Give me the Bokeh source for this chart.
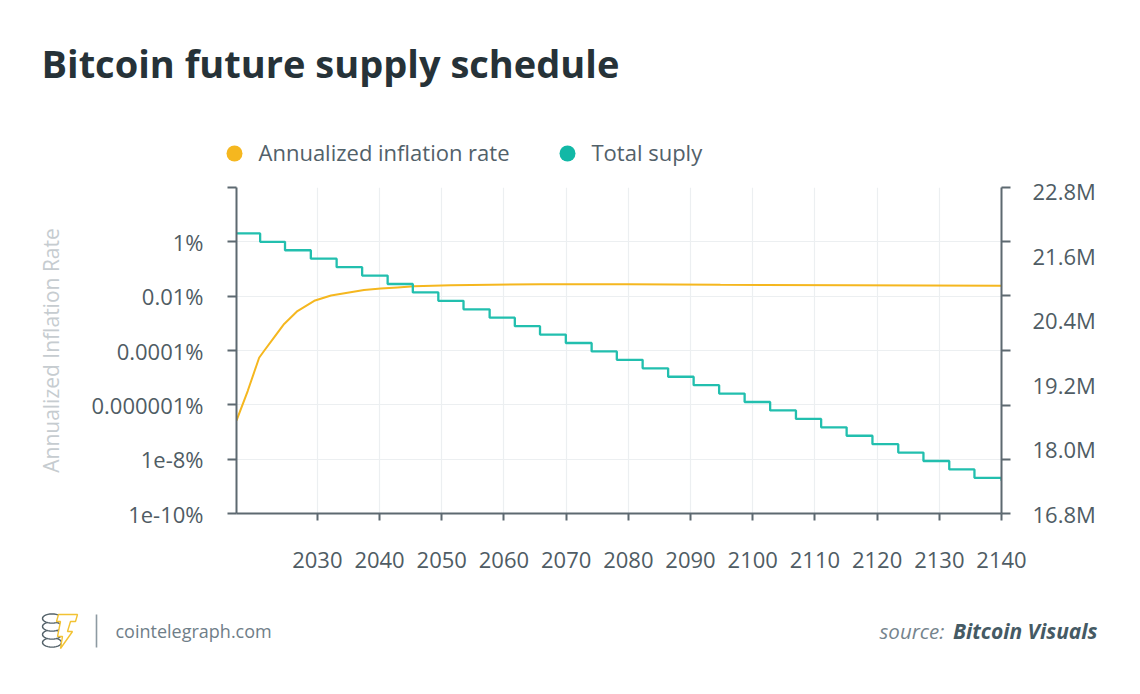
import math
from bokeh.plotting import figure
from bokeh.layouts import column
from bokeh.models import (Range1d, LinearAxis, LinearScale, FixedTicker, PrintfTickFormatter)
from bokeh.core.properties import value
from bokeh.embed import file_html
from bokeh.resources import INLINE

# ---------------- data ----------------
# Annualized inflation rate (%) - step series, changes at each halving
halving_years = [2020.8, 2024.8, 2028.95, 2033.1, 2037.2, 2041.3, 2045.35, 2049.45, 2053.5,
                 2057.7, 2061.75, 2065.8, 2069.95, 2074.1, 2078.15, 2082.3, 2086.4, 2090.5,
                 2094.6, 2098.7, 2102.8, 2106.95, 2111.0, 2115.1, 2119.25, 2123.4, 2127.45,
                 2131.6, 2135.65]
rate_years = [2017.0] + halving_years + [2140.0]
rate_pct = [2.04, 1.0, 0.489, 0.239, 0.117, 0.0573, 0.0281, 0.01374, 0.00673, 0.00329,
            0.00161, 7.88e-4, 3.86e-4, 1.89e-4, 9.25e-5, 4.52e-5, 2.21e-5, 1.08e-5,
            5.31e-6, 2.6e-6, 1.27e-6, 6.22e-7, 3.04e-7, 1.49e-7, 7.29e-8, 3.57e-8,
            1.75e-8, 8.55e-9, 4.19e-9, 2.05e-9, 1.6e-9]

# Total supply (millions of BTC)
supply_years = [2017.0, 2018.8, 2020.64, 2021.45, 2023.05, 2024.66, 2026.8, 2029.5, 2032.2,
                2034.85, 2037.5, 2040.2, 2042.9, 2045.55, 2051.45, 2058.0, 2065.9, 2080.0,
                2094.8, 2115.8, 2140.0]
supply_m = [18.53, 19.08, 19.70, 19.83, 20.08, 20.33, 20.57, 20.76, 20.86, 20.91, 20.96,
            20.99, 21.01, 21.03, 21.05, 21.06, 21.07, 21.07, 21.06, 21.05, 21.04]

x_ticks = [2030, 2040, 2050, 2060, 2070, 2080, 2090, 2100, 2110, 2120, 2130, 2140]
rate_ticks = [1e-10, 1e-8, 1e-6, 1e-4, 1e-2, 1.0, 100.0]
rate_tick_labels = ["1e-10%", "1e-8%", "0.000001%", "0.0001%", "0.01%", "1%", ""]
supply_ticks = [16.8, 18.0, 19.2, 20.4, 21.6, 22.8]
supply_marks = [16.8, 17.81, 18.82, 19.83, 20.85, 21.86, 22.869]

legend_labels = ["Annualized inflation rate", "Total suply"]

# ---------------- style ----------------
YEL = "#f5b71f"
TEAL = "#22bfae"
AX = "#5d6970"
LBL = "#4f5c64"
GRID = "#eceff1"
FONT = "Open Sans"

W = 1124
HH, MH, FH = 172, 418, 88            # header, main, footer heights
FL, FR, FT, FB = 236, 123, 15, 77    # main figure borders


def blank(height, y0):
    f = figure(width=W, height=height, x_range=Range1d(0, W),
               y_range=Range1d(y0 + height, y0), output_backend="svg",
               toolbar_location=None, min_border=0, x_axis_location=None,
               y_axis_location=None, outline_line_color=None, frame_align=False,
               background_fill_color="white", border_fill_color="white")
    f.grid.visible = False
    return f


# ---------------- header: title + legend ----------------
hdr = blank(HH, 0)
hdr.text(x=[41], y=[62], text=["Bitcoin future supply schedule"], text_font=value(FONT),
         text_font_style="bold", text_font_size="38px", text_color="#263238",
         text_baseline="middle", text_align="left")
hdr.scatter(x=[234, 567], y=[153, 153], size=16, marker="circle",
            fill_color=[YEL, "#12b8a6"], line_color=None)
hdr.text(x=[258, 591], y=[151, 151], text=legend_labels, text_font=value(FONT),
         text_font_size="22px", text_color="#52616a", text_baseline="middle",
         text_align="left")

# ---------------- main chart ----------------
p = figure(width=W, height=MH, output_backend="svg", toolbar_location=None,
           x_range=Range1d(2017.0, 2140.0), y_range=Range1d(1e-10, 100.0),
           y_axis_type="log", frame_align=False,
           min_border_left=FL, min_border_right=FR, min_border_top=FT, min_border_bottom=FB,
           outline_line_color=None, background_fill_color="white",
           border_fill_color="white")
p.extra_y_ranges = {"supply": Range1d(16.8, 22.87)}
p.extra_y_scales = {"supply": LinearScale()}

xt = FixedTicker(ticks=x_ticks)
xax = p.xaxis[0]
xax.ticker = xt
xax.minor_tick_line_color = None
xax.major_tick_in = 0
xax.major_tick_out = 7
xax.major_tick_line_color = AX
xax.major_tick_line_width = 2
xax.axis_line_color = AX
xax.axis_line_width = 2
xax.major_label_standoff = 31
xax.major_label_text_font = FONT
xax.major_label_text_font_size = "22px"
xax.major_label_text_color = LBL

yt = FixedTicker(ticks=rate_ticks)
yax = p.yaxis[0]
yax.ticker = yt
yax.major_label_overrides = dict(zip(rate_ticks, rate_tick_labels))
yax.minor_tick_line_color = None
yax.major_tick_in = 0
yax.major_tick_out = 9
yax.major_tick_line_color = AX
yax.major_tick_line_width = 2
yax.axis_line_color = AX
yax.axis_line_width = 2
yax.major_label_standoff = 24
yax.major_label_text_font = FONT
yax.major_label_text_font_size = "22px"
yax.major_label_text_color = LBL
yax.axis_label = "Annualized Inflation Rate"
yax.axis_label_text_font = FONT
yax.axis_label_text_font_style = "normal"
yax.axis_label_text_font_size = "21px"
yax.axis_label_text_color = "#c6ccd0"
yax.axis_label_standoff = 23

rax = LinearAxis(y_range_name="supply",
                 ticker=FixedTicker(ticks=supply_ticks, minor_ticks=supply_marks),
                 formatter=PrintfTickFormatter(format="%.1fM"))
rax.major_tick_line_color = None
rax.major_tick_in = 0
rax.major_tick_out = 9
rax.minor_tick_in = 0
rax.minor_tick_out = 9
rax.minor_tick_line_color = AX
rax.minor_tick_line_width = 2
rax.axis_line_color = AX
rax.axis_line_width = 2
rax.major_label_standoff = 22
rax.major_label_text_font = FONT
rax.major_label_text_font_size = "22px"
rax.major_label_text_color = LBL
p.add_layout(rax, "right")

p.xgrid.ticker = xt
p.ygrid.ticker = yt
p.xgrid.grid_line_color = GRID
p.ygrid.grid_line_color = GRID
p.xgrid.grid_line_width = 1.2
p.ygrid.grid_line_width = 1.2

p.line(supply_years, supply_m, y_range_name="supply", line_color=YEL, line_width=2)
p.step(rate_years, rate_pct, mode="after", line_color=TEAL, line_width=2.3)

# ---------------- footer ----------------
ftr = blank(FH, HH + MH)
ftr.text(x=[115], y=[630], text=["cointelegraph.com"], text_font=value(FONT),
         text_font_size="18px", text_color="#6f7e88", text_baseline="middle")
ftr.text(x=[879], y=[630], text=["source:"], text_font=value(FONT), text_font_style="italic",
         text_font_size="20.5px", text_color="#75848d", text_baseline="middle")
ftr.text(x=[1097], y=[630], text=["Bitcoin Visuals"], text_font=value(FONT),
         text_font_style="bold italic", text_font_size="21px", text_color="#455a64",
         text_baseline="middle", text_align="right")
ftr.segment(x0=[96], y0=[614], x1=[96], y1=[647], line_color="#8d9aa2", line_width=1.6)


def ellipse(cx, cy, rx, ry, n=28):
    xs = [cx + rx * math.cos(2 * math.pi * i / n) for i in range(n)]
    ys = [cy + ry * math.sin(2 * math.pi * i / n) for i in range(n)]
    return xs, ys


for cy in [642, 634, 626, 618]:
    xs, ys = ellipse(51.5, cy, 9.5, 4.6)
    ftr.patch(xs, ys, fill_color="white", line_color="#55636b", line_width=1.4)
bolt = [(58, 614), (77, 614), (75, 621), (70, 621), (67, 631), (72, 631), (60, 648),
        (62, 636), (57, 636), (60, 621), (56, 621)]
ftr.patch([a for a, b in bolt], [b for a, b in bolt], fill_color="white",
          line_color="#f2c233", line_width=1.4)

layout = column(hdr, p, ftr, spacing=0)
open("out.html", "w").write(file_html(layout, INLINE))
